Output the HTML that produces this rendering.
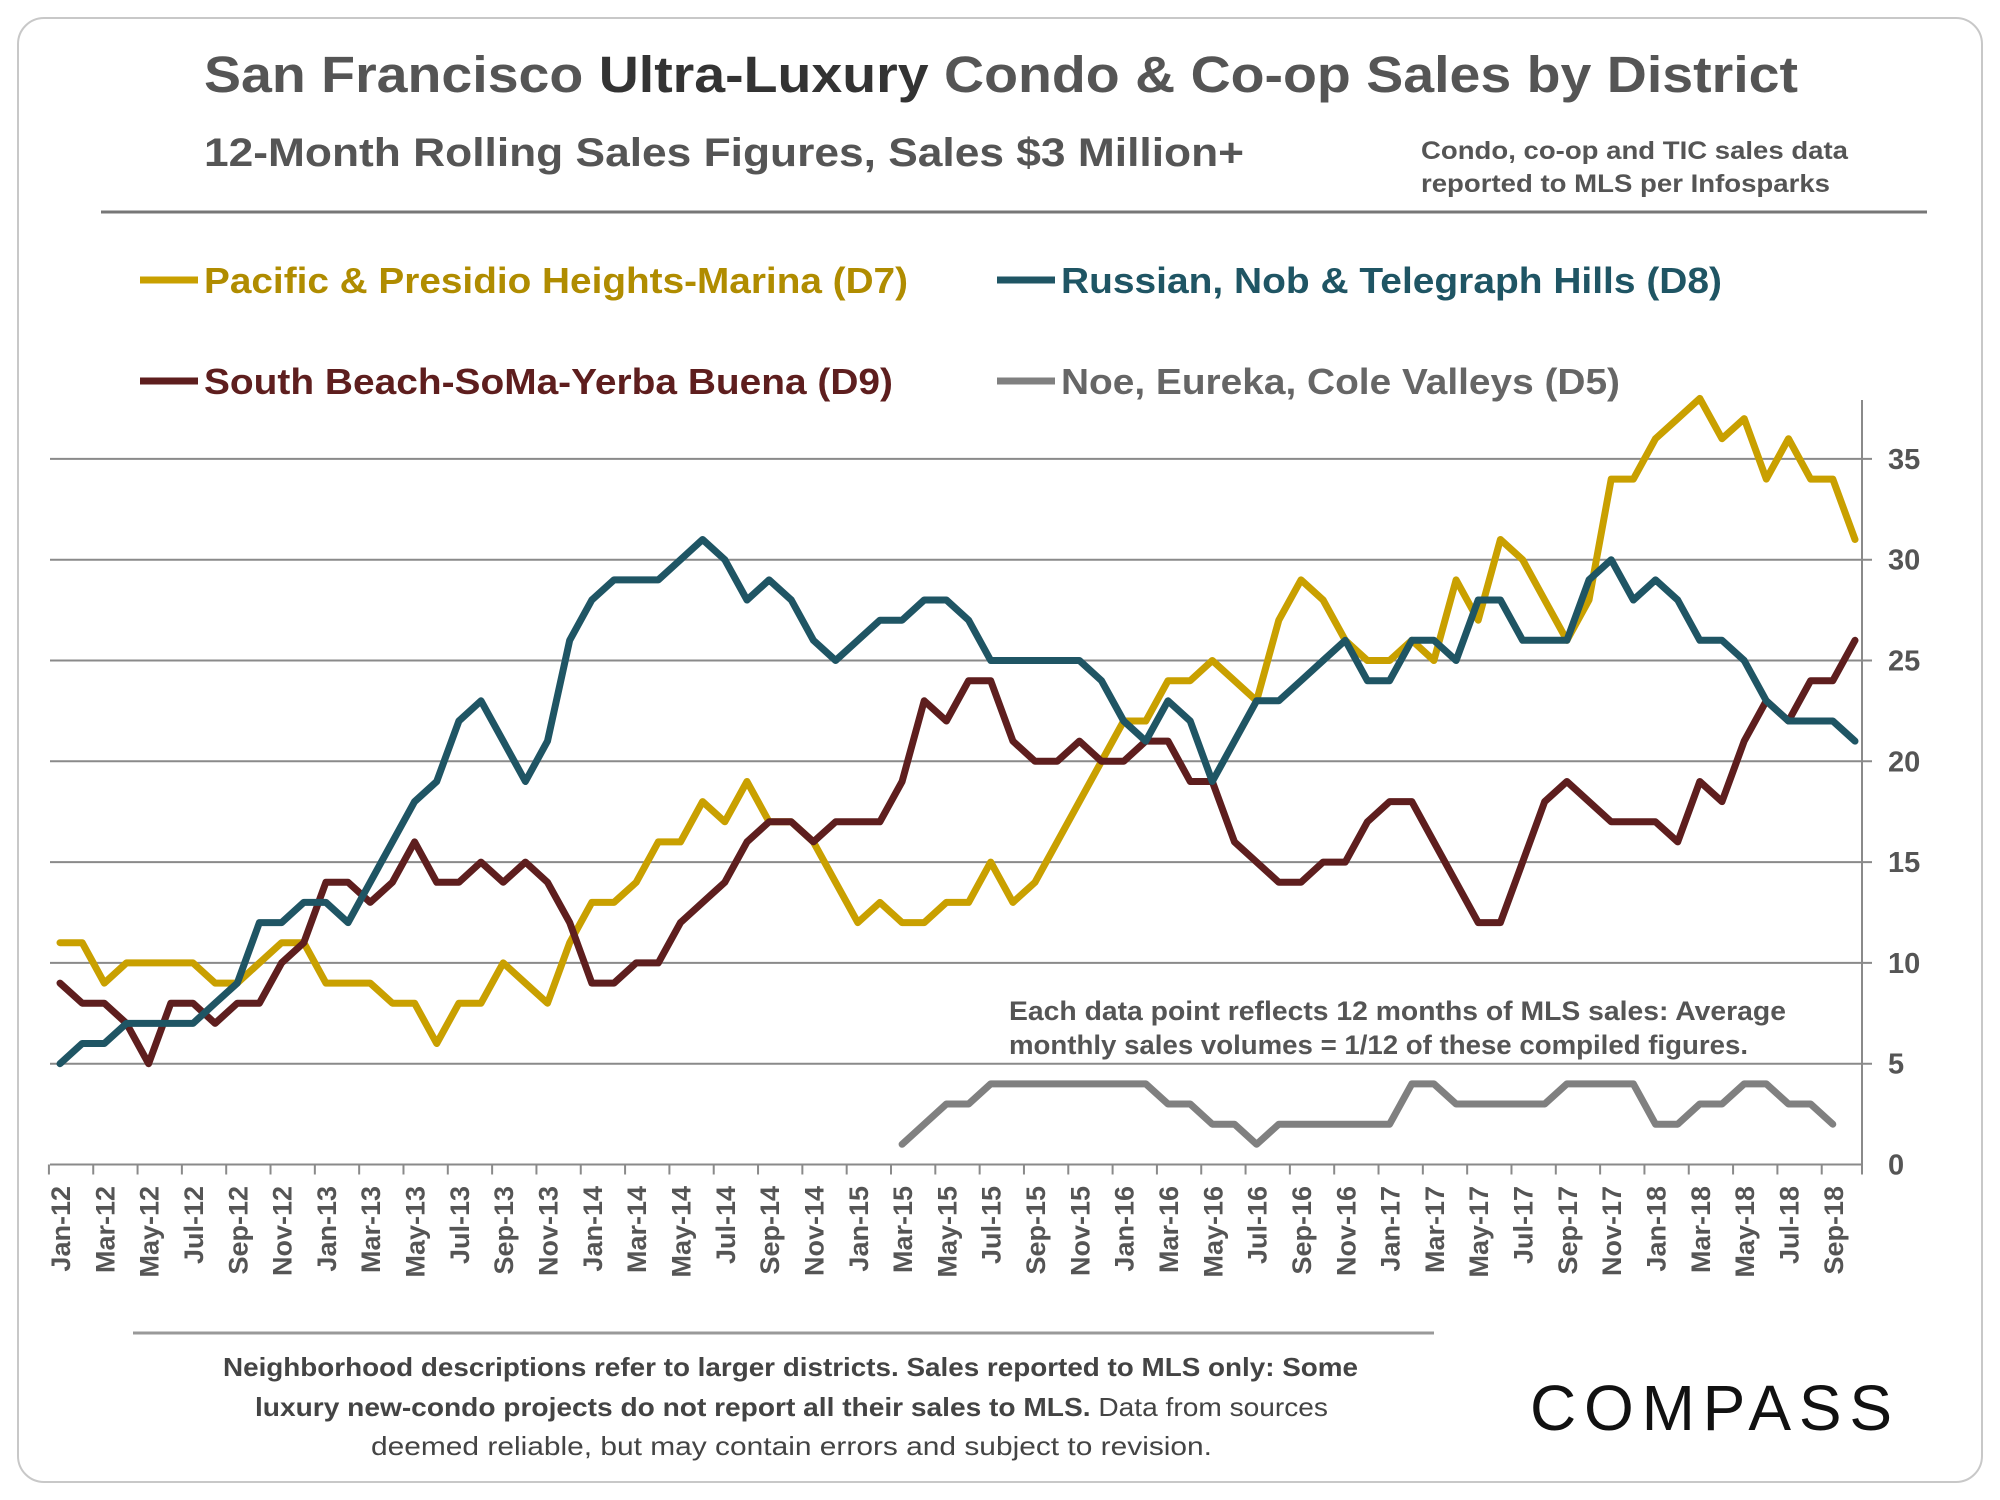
<!DOCTYPE html>
<html><head><meta charset="utf-8"><style>
html,body{margin:0;padding:0;background:#fff}
svg{display:block;font-family:"Liberation Sans",Arial,sans-serif}
</style></head><body>
<svg id="chart" width="2000" height="1500" viewBox="0 0 2000 1500" xmlns="http://www.w3.org/2000/svg">
<rect x="18" y="18" width="1964" height="1464" rx="26" fill="#fff" stroke="#c8c8c8" stroke-width="2"/>
<text x="204" y="92" font-size="51" font-weight="bold" fill="#555" textLength="1594" lengthAdjust="spacingAndGlyphs">San Francisco <tspan fill="#333">Ultra-Luxury</tspan> Condo &amp; Co-op Sales by District</text>
<text x="204" y="166" font-size="40" font-weight="bold" fill="#555" textLength="1040" lengthAdjust="spacingAndGlyphs">12-Month Rolling Sales Figures, Sales $3 Million+</text>
<g font-size="25" font-weight="bold" fill="#555">
<text x="1421" y="159" textLength="427" lengthAdjust="spacingAndGlyphs">Condo, co-op and TIC sales data</text>
<text x="1421" y="192" textLength="409" lengthAdjust="spacingAndGlyphs">reported to MLS per Infosparks</text>
</g>
<line x1="101" y1="212" x2="1927" y2="212" stroke="#777" stroke-width="3"/>
<g>
<g><line x1="140" y1="280" x2="198" y2="280" stroke="#C9A000" stroke-width="7"/><text x="204" y="293" font-size="36" font-weight="bold" fill="#B08C00" textLength="704" lengthAdjust="spacingAndGlyphs">Pacific &amp; Presidio Heights-Marina (D7)</text></g>
<g><line x1="997" y1="280" x2="1055" y2="280" stroke="#1F5564" stroke-width="7"/><text x="1061" y="293" font-size="36" font-weight="bold" fill="#1F5564" textLength="661" lengthAdjust="spacingAndGlyphs">Russian, Nob &amp; Telegraph Hills (D8)</text></g>
<g><line x1="140" y1="381" x2="198" y2="381" stroke="#5E1E1E" stroke-width="7"/><text x="204" y="394" font-size="36" font-weight="bold" fill="#5E1E1E" textLength="689" lengthAdjust="spacingAndGlyphs">South Beach-SoMa-Yerba Buena (D9)</text></g>
<g><line x1="997" y1="381" x2="1055" y2="381" stroke="#808080" stroke-width="7"/><text x="1061" y="394" font-size="36" font-weight="bold" fill="#666" textLength="559" lengthAdjust="spacingAndGlyphs">Noe, Eureka, Cole Valleys (D5)</text></g>
</g>
<g id="grid"></g>
<g id="axes"></g>
<g id="series"></g>
<g font-size="27" font-weight="bold" fill="#555">
<text x="1009" y="1020" textLength="777" lengthAdjust="spacingAndGlyphs">Each data point reflects 12 months of MLS sales:  Average</text>
<text x="1009" y="1054" textLength="739" lengthAdjust="spacingAndGlyphs">monthly sales volumes = 1/12 of these compiled figures.</text>
</g>
<line x1="133" y1="1333" x2="1434" y2="1333" stroke="#999" stroke-width="3"/>
<g font-size="26" fill="#444">
<text x="223" y="1376" font-weight="bold" textLength="1135" lengthAdjust="spacingAndGlyphs">Neighborhood descriptions refer to larger districts.  Sales reported to MLS only: Some</text>
<text x="255" y="1416" textLength="1073" lengthAdjust="spacingAndGlyphs"><tspan font-weight="bold">luxury new-condo projects do not report all their sales to MLS.</tspan> Data from sources</text>
<text x="371" y="1455" textLength="841" lengthAdjust="spacingAndGlyphs">deemed reliable, but may contain errors and subject to revision.</text>
</g>
<text x="1530" y="1430" font-size="64" fill="#111" textLength="362" lengthAdjust="spacing">COMPASS</text>
</svg>
<script>
const months = ["Jan","Feb","Mar","Apr","May","Jun","Jul","Aug","Sep","Oct","Nov","Dec"];
const categories = [];
for (let y = 12; y <= 18; y++) for (let m = 0; m < 12; m++) { if (y === 18 && m > 9) break; categories.push(months[m] + "-" + y); }
const yTicks = [0,5,10,15,20,25,30,35];
const d7 = [11,11,9,10,10,10,10,9,9,10,11,11,9,9,9,8,8,6,8,8,10,9,8,11,13,13,14,16,16,18,17,19,17,17,16,14,12,13,12,12,13,13,15,13,14,16,18,20,22,22,24,24,25,24,23,27,29,28,26,25,25,26,25,29,27,31,30,28,26,28,34,34,36,37,38,36,37,34,36,34,34,31];
const d8 = [5,6,6,7,7,7,7,8,9,12,12,13,13,12,14,16,18,19,22,23,21,19,21,26,28,29,29,29,30,31,30,28,29,28,26,25,26,27,27,28,28,27,25,25,25,25,25,24,22,21,23,22,19,21,23,23,24,25,26,24,24,26,26,25,28,28,26,26,26,29,30,28,29,28,26,26,25,23,22,22,22,21];
const d9 = [9,8,8,7,5,8,8,7,8,8,10,11,14,14,13,14,16,14,14,15,14,15,14,12,9,9,10,10,12,13,14,16,17,17,16,17,17,17,19,23,22,24,24,21,20,20,21,20,20,21,21,19,19,16,15,14,14,15,15,17,18,18,16,14,12,12,15,18,19,18,17,17,17,16,19,18,21,23,22,24,24,26];
const d5start = 38;
const d5 = [1,2,3,3,4,4,4,4,4,4,4,4,3,3,2,2,1,2,2,2,2,2,2,4,4,3,3,3,3,3,4,4,4,4,2,2,3,3,4,4,3,3,2];

const NS = "http://www.w3.org/2000/svg";
const X0 = 60, DX = 22.16, Y0 = 1164.5, DY = 20.16, LEFT = 50, RIGHT = 1862;
const xs = i => X0 + i * DX;
const ys = v => Y0 - v * DY;
function mk(tag, attrs, parent) { const e = document.createElementNS(NS, tag); for (const k in attrs) e.setAttribute(k, attrs[k]); parent.appendChild(e); return e; }
const grid = document.getElementById("grid"), axes = document.getElementById("axes"), series = document.getElementById("series");
yTicks.forEach(v => {
  if (v > 0) {
    const l = mk("line", {x1: LEFT, x2: RIGHT + 10, y1: ys(v), y2: ys(v), stroke: "#8a8a8a", "stroke-width": 2}, grid);
    
    
  }
  const t = mk("text", {x: 1888, y: ys(v) + 10, "font-size": 29, "font-weight": "bold", fill: "#555"}, axes);
  t.textContent = v;
  
  
});
const xa = mk("line", {x1: LEFT, x2: RIGHT, y1: Y0, y2: Y0, stroke: "#8a8a8a", "stroke-width": 2}, axes);


const ya = mk("line", {x1: RIGHT, x2: RIGHT, y1: 400, y2: Y0 + 10, stroke: "#8a8a8a", "stroke-width": 2}, axes);


categories.forEach((c, i) => {
  if (i % 2 === 0) {
    const tk = mk("line", {x1: xs(i) - DX / 2, x2: xs(i) - DX / 2, y1: Y0, y2: Y0 + 10, stroke: "#8a8a8a", "stroke-width": 2}, axes);
    
    
    const t = mk("text", {x: 0, y: 0, "font-size": 27, "font-weight": "bold", fill: "#555", "text-anchor": "end", transform: `translate(${xs(i) + 10},1186) rotate(-90)`}, axes);
    t.textContent = c;
    
    
  }
});
function line(data, start, color, name) {
  const pts = data.map((v, k) => xs(start + k).toFixed(1) + "," + ys(v).toFixed(1)).join(" ");
  const p = mk("polyline", {points: pts, fill: "none", stroke: color, "stroke-width": 7, "stroke-linejoin": "round", "stroke-linecap": "round"}, series);
  
  
}
line(d5, d5start, "#808080", "series-d5");
line(d7, 0, "#C9A000", "series-d7");
line(d9, 0, "#5E1E1E", "series-d9");
line(d8, 0, "#1F5564", "series-d8");
</script>
</body></html>
